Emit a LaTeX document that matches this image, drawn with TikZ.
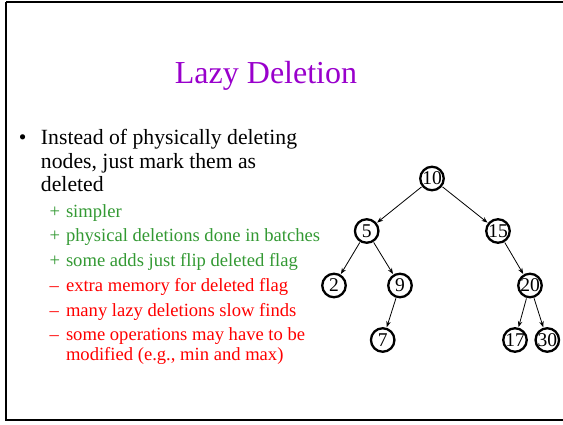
\documentclass[tikz,border=0pt]{standalone}
\usepackage{fontspec}
\setmainfont{Liberation Serif}
\usetikzlibrary{arrows.meta}
\definecolor{titlepurple}{HTML}{9900CC}
\definecolor{progreen}{HTML}{339933}
\definecolor{conred}{HTML}{FF0000}
\begin{document}
\begin{tikzpicture}[x=1pt,y=-1pt,
  txt/.style={anchor=base west,inner sep=0pt,outer sep=0pt},
  mainline/.style={txt,font=\fontsize{21.7}{23.5}\selectfont},
  subline/.style={txt,font=\fontsize{18.6}{20}\selectfont},
  pro/.style={subline,text=progreen},
  con/.style={subline,text=conred},
  treenode/.style={circle,draw,line width=2.3pt,minimum size=23.5pt,inner sep=0pt,
    font=\fontsize{19.5}{19.5}\selectfont},
  edge/.style={line width=0.8pt,-{Stealth[length=6pt,width=4.5pt]},shorten <=0.5pt,shorten >=0.5pt}]
\useasboundingbox (0,0) rectangle (563,425);
% slide frame
\draw[line width=2.4pt] (6,2) -- (575,2);
\draw[line width=2.4pt] (575,420) -- (6,420) -- (6,2);
% title
\node[anchor=base,inner sep=0pt,text=titlepurple,font=\fontsize{32}{36}\selectfont] (title) at (266,84) {Lazy Deletion};
% main bullet
\node[mainline] (dot) at (19,145) {•};
\node[mainline] (m1) at (41,145) {Instead of physically deleting};
\node[mainline] (m2) at (41,168.5) {nodes, just mark them as};
\node[mainline] (m3) at (41,192) {deleted};
% advantages
\node[pro] (p1s) at (49.5,217.5) {+};
\node[pro] (p1) at (66,217.5) {simpler};
\node[pro] (p2s) at (49.5,242) {+};
\node[pro] (p2) at (66,242) {physical deletions done in batches};
\node[pro] (p3s) at (49.5,266.7) {+};
\node[pro] (p3) at (66,266.7) {some adds just flip deleted flag};
% drawbacks
\node[con] (c1s) at (49.5,291.5) {–};
\node[con] (c1) at (66,291.5) {extra memory for deleted flag};
\node[con] (c2s) at (49.5,316.3) {–};
\node[con] (c2) at (66,316.3) {many lazy deletions slow finds};
\node[con] (c3s) at (49.5,341) {–};
\node[con] (c3) at (66,341) {some operations may have to be};
\node[con] (c3b) at (66,360.7) {modified (e.g., min and max)};
% binary search tree
\node[treenode] (n10) at (432,178.5) {10};
\node[treenode] (n5) at (366.7,231) {5};
\node[treenode] (n15) at (498,231) {15};
\node[treenode] (n2) at (334,285.5) {2};
\node[treenode] (n9) at (400,285.5) {9};
\node[treenode] (n20) at (530,285.5) {20};
\node[treenode] (n7) at (382.7,340) {7};
\node[treenode] (n17) at (515,340) {17};
\node[treenode] (n30) at (547.3,340) {30};
\draw[edge] (n10) -- (n5);
\draw[edge] (n10) -- (n15);
\draw[edge] (n5) -- (n2);
\draw[edge] (n5) -- (n9);
\draw[edge] (n15) -- (n20);
\draw[edge] (n9) -- (n7);
\draw[edge] (n20) -- (n17);
\draw[edge] (n20) -- (n30);
\end{tikzpicture}
\end{document}
